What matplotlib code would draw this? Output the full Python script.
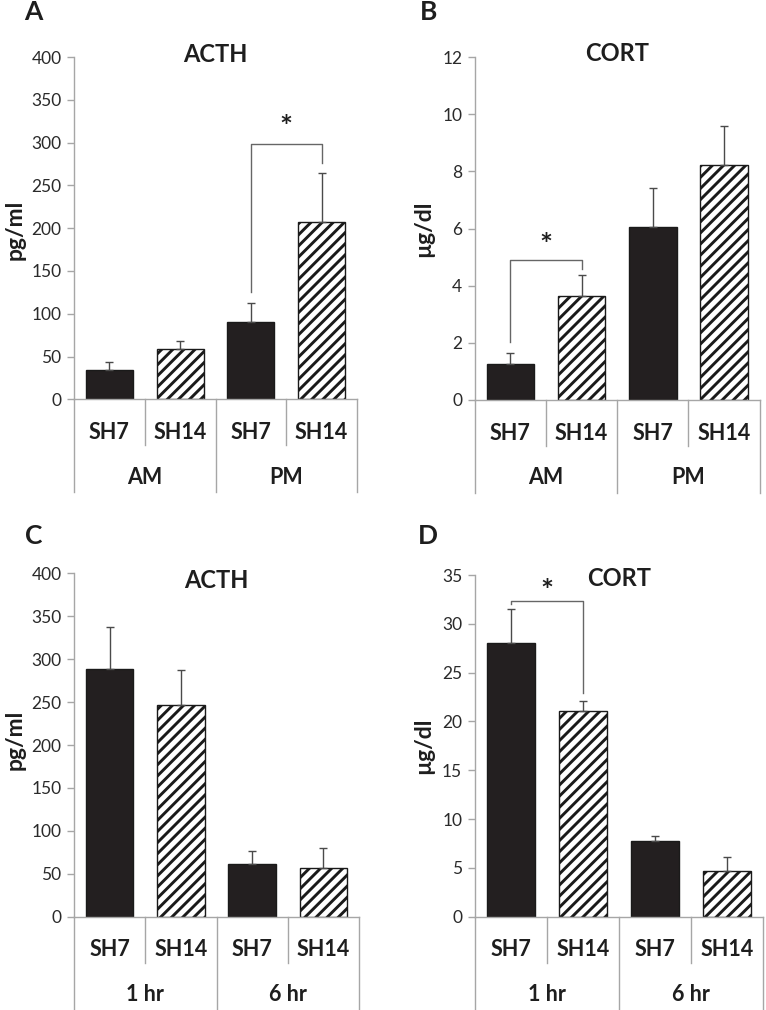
import matplotlib
matplotlib.use("Agg")
import matplotlib.pyplot as plt
import matplotlib.transforms as mtransforms
from matplotlib.lines import Line2D

plt.rcParams['font.family'] = ['Lato', 'DejaVu Sans']
plt.rcParams['hatch.linewidth'] = 2.1
plt.rcParams['hatch.color'] = '#1a1a1a'

# ---------------- data ----------------
bar_labels = ["SH7", "SH14", "SH7", "SH14"]
groups_AB = ["AM", "PM"]
groups_CD = ["1 hr", "6 hr"]

acth_ampm = [34, 58.5, 90, 207.5]
acth_ampm_err = [10, 10, 22, 57.5]
cort_ampm = [1.26, 3.64, 6.06, 8.22]
cort_ampm_err = [0.39, 0.72, 1.36, 1.38]
acth_time = [289, 246.5, 61, 57]
acth_time_err = [49, 41, 15, 23]
cort_time = [28.0, 21.1, 7.75, 4.65]
cort_time_err = [3.5, 1.0, 0.5, 1.45]

# significance brackets: (left bar, right bar, bracket y, left leg end, right leg end, star y)
sig_A = (2, 3, 298, 125, 276, 317)
sig_B = (0, 1, 4.9, 2.04, 4.6, 5.4)
sig_D = (0, 1, 32.3, 32.0, 22.9, 33.3)

W, H = 766, 1010
fig = plt.figure(figsize=(W / 100, H / 100), dpi=100)

GRAY = '#a6a6a6'
DARK = '#231f20'
TXT = '#1e1e1e'

def px_axes(l, r, t, b):
    return fig.add_axes([l / W, 1 - b / H, (r - l) / W, (b - t) / H])

def panel(box, vals, errs, ymax, ystep, groups, ylabel, title, title_y, letter,
          letter_xy, ylabel_xy, sig=None):
    l, r, t, b = box
    ax = px_axes(l, r, t, b)
    h_px = b - t
    x = list(range(len(vals)))
    colors = [DARK, 'white', DARK, 'white']
    hatches = ['', '///', '', '///']
    for i in x:
        ax.bar(i, vals[i], width=0.665, color=colors[i], edgecolor='#1a1a1a',
               linewidth=1.0, hatch=hatches[i], zorder=2)
    ax.errorbar(x, vals, yerr=[[0] * len(vals), errs], fmt='none',
                ecolor='#4a4a4a', elinewidth=1.0, capsize=2.6, capthick=1.0,
                zorder=3)
    ax.set_xlim(-0.5, 3.5)
    ax.set_ylim(0, ymax)
    ticks = [ystep * k for k in range(int(round(ymax / ystep)) + 1)]
    ax.set_yticks(ticks)
    ax.set_yticklabels([f"{v:g}" for v in ticks])
    ax.tick_params(axis='y', direction='out', length=5, width=1, color=GRAY,
                   labelcolor='#2a2a2a', labelsize=12.5, pad=4)
    ax.set_xticks([])
    for s in ['top', 'right']:
        ax.spines[s].set_visible(False)
    for s in ['left', 'bottom']:
        ax.spines[s].set_color(GRAY)
        ax.spines[s].set_linewidth(1.0)

    trans = mtransforms.blended_transform_factory(ax.transData, ax.transAxes)
    def fy(px):
        return -px / h_px
    # category dividers
    for xd in [0.5, 2.5]:
        ax.add_line(Line2D([xd, xd], [0, fy(46)], transform=trans, color=GRAY,
                           lw=1.0, clip_on=False))
    for xd in [-0.5, 1.5, 3.5]:
        ax.add_line(Line2D([xd, xd], [0, fy(93)], transform=trans, color=GRAY,
                           lw=1.0, clip_on=False))
    for i, lab in enumerate(bar_labels):
        ax.text(i, fy(33), lab, transform=trans, ha='center', va='center',
                fontsize=15.5, fontweight='bold', color=TXT)
    for j, g in enumerate(groups):
        ax.text(0.5 + 2 * j, fy(78), g, transform=trans, ha='center',
                va='center', fontsize=15.5, fontweight='bold', color=TXT)

    if sig is not None:
        i0, i1, yb, yl, yr, ys = sig
        ax.plot([i0, i0, i1, i1], [yl, yb, yb, yr], color='#666666', lw=1.0,
                zorder=4, clip_on=False)
        ax.text((i0 + i1) / 2, ys, '*', ha='center', va='center', fontsize=22,
                fontweight='bold', color=TXT)

    fig.text((l + r) / 2 / W, 1 - title_y / H, title, ha='center', va='center',
             fontsize=17, fontweight='bold', color=TXT)
    fig.text(letter_xy[0] / W, 1 - letter_xy[1] / H, letter, ha='center',
             va='center', fontsize=19, fontweight='bold', color=TXT)
    fig.text(ylabel_xy[0] / W, 1 - ylabel_xy[1] / H, ylabel, ha='center',
             va='center', rotation=90, fontsize=16.5, fontweight='bold',
             color=TXT)
    return ax

panel((74, 357, 57, 399.3), acth_ampm, acth_ampm_err, 400, 50, groups_AB,
      'pg/ml', 'ACTH', 54.5, 'A', (33, 12.5), (15, 230), sig_A)
panel((474.7, 759.7, 57, 400), cort_ampm, cort_ampm_err, 12, 2, groups_AB,
      'µg/dl', 'CORT', 53.5, 'B', (429, 12.5), (424, 229), sig_B)
panel((74, 359, 573.3, 916.7), acth_time, acth_time_err, 400, 50, groups_CD,
      'pg/ml', 'ACTH', 580, 'C', (34, 536), (15, 740), None)
panel((474.7, 763, 575, 916.7), cort_time, cort_time_err, 35, 5, groups_CD,
      'µg/dl', 'CORT', 578.5, 'D', (428, 536), (424, 746), sig_D)

fig.savefig('out.png', dpi=100)
